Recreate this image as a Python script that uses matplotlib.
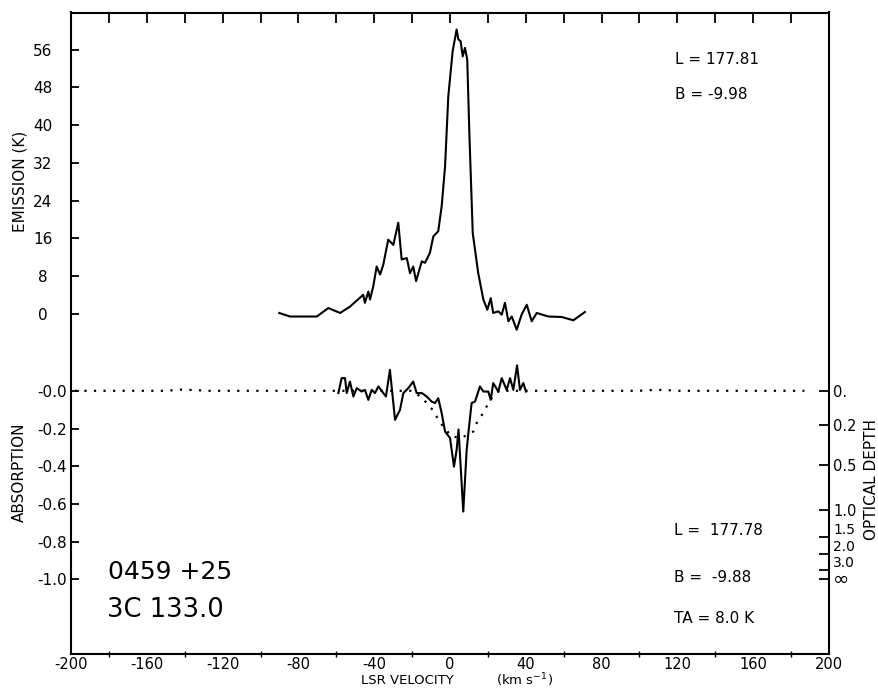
import numpy as np
import matplotlib
matplotlib.use('Agg')
import matplotlib.pyplot as plt

plt.rcParams['font.family'] = 'DejaVu Sans'
plt.rcParams['axes.unicode_minus'] = False

# emission spectrum (K) vs LSR velocity (km/s)
em_v = [-90.1, -84.4, -70.3, -64.2, -58.0, -52.8, -45.8, -44.9, -43.1, -42.2, -40.5,
        -38.7, -36.9, -35.2, -32.6, -29.9, -27.3, -25.5, -22.8, -21.1, -19.4, -17.9,
        -14.9, -13.2, -10.6, -8.8, -6.2, -4.4, -2.6, -0.9, 1.4, 3.5, 4.4, 5.6, 6.7,
        7.9, 9.1, 10.2, 12.0, 14.9, 17.6, 19.7, 21.5, 22.8, 25.5, 27.3, 29.0, 30.8,
        32.6, 35.2, 37.8, 40.5, 43.1, 45.8, 51.9, 58.9, 65.1, 71.2]
em_t = [0.15, -0.6, -0.6, 1.2, 0.15, 1.5, 4.0, 2.3, 4.7, 3.0, 5.8,
        10.0, 8.3, 10.4, 15.7, 14.6, 19.3, 11.5, 11.8, 8.6, 10.0, 6.9,
        11.1, 10.8, 12.9, 16.4, 17.5, 22.8, 31.3, 46.1, 55.7, 60.3, 58.2, 57.8, 54.6,
        56.4, 53.9, 38.4, 17.1, 8.6, 3.0, 0.85, 3.3, 0.15, 0.5, -0.2, 2.3, -1.6,
        -0.6, -3.4, -0.2, 1.9, -1.6, 0.15, -0.6, -0.7, -1.4, 0.35]

# absorption spectrum
ab_v = [-58.9, -57.2, -55.4, -54.5, -52.8, -51.0, -49.2, -46.6, -44.9, -43.1, -41.3,
        -39.6, -37.8, -35.2, -33.8, -31.7, -29.0, -26.4, -24.6, -22.0, -19.4, -17.6,
        -14.9, -12.3, -9.7, -7.9, -6.2, -4.4, -2.6, 0.0, 2.1, 3.5, 4.5, 7.0, 8.8,
        9.7, 11.4, 13.2, 15.8, 17.6, 20.2, 21.5, 22.8, 25.5, 27.3, 29.9, 31.7,
        33.4, 35.4, 36.9, 38.7, 40.1]
ab_a = [-0.012, 0.067, 0.067, -0.012, 0.049, -0.030, 0.014, -0.004, 0.005, -0.048, 0.005,
        -0.012, 0.023, -0.012, -0.030, 0.111, -0.154, -0.101, -0.012, 0.014, 0.049, -0.012,
        -0.012, -0.030, -0.057, -0.065, -0.039, -0.118, -0.216, -0.250, -0.402, -0.313, -0.205, -0.640, -0.313,
        -0.224, -0.065, -0.057, 0.023, -0.004, -0.004, -0.048, 0.041, -0.004, 0.067, 0.005, 0.067,
        0.005, 0.135, 0.005, 0.041, -0.004]

# expected absorption (dotted)
mod_v = [-198, -150, -142, -135, -128, -20, -15, -10.6, -7.9, -6.2, -3.5, 0.9, 6,
         12.3, 14.1, 15.8, 18.5, 20.2, 23, 26, 100, 108, 114, 120, 187]
mod_a = [0, 0, 0.006, 0.004, 0, 0, -0.035, -0.083, -0.118, -0.154, -0.19, -0.242, -0.25,
         -0.216, -0.171, -0.145, -0.10, -0.065, -0.025, 0, 0, 0.005, 0.004, 0, 0]

em_ticks = [0, 8, 16, 24, 32, 40, 48, 56]
ab_ticks = [0, -0.2, -0.4, -0.6, -0.8, -1.0]
ab_labels = ['-0.0', '-0.2', '-0.4', '-0.6', '-0.8', '-1.0']
tau_vals = [0, 0.2, 0.5, 1.0, 1.5, 2.0, 3.0]
tau_labels = ['0.', '0.2', '0.5', '1.0', '1.5', '2.0', '3.0', '\u221e']
v_ticks = [-200, -160, -120, -80, -40, 0, 40, 80, 120, 160, 200]

fig = plt.figure(figsize=(8.79, 6.88), dpi=100)
rect = [71/879, 34/688, 758/879, 641.5/688]

# emission axes (holds the frame)
ax = fig.add_axes(rect)
ax.set_xlim(-200, 200)
ax.set_ylim(-72.2, 63.9)
ax.plot(em_v, em_t, 'k-', lw=1.5)
for s in ax.spines.values():
    s.set_linewidth(1.5)
ax.set_yticks(em_ticks)
ax.set_yticklabels([str(t) for t in em_ticks])
ax.tick_params(axis='y', direction='in', length=6, width=1.3, pad=20.5, labelsize=11)
for lab in ax.get_yticklabels():
    lab.set_horizontalalignment('center')
ax.set_xticks(v_ticks)
ax.set_xticklabels([str(t) for t in v_ticks])
ax.set_xticks(np.arange(-180, 181, 40), minor=True)
ax.tick_params(axis='x', which='major', length=0, pad=2.5, labelsize=10.5)
ax.tick_params(axis='x', which='minor', direction='inout', length=4, width=1)

# absorption axes, same box
ax2 = fig.add_axes(rect, frameon=False)
ax2.set_xlim(-200, 200)
ax2.set_ylim(-1.395, 2.005)
ax2.plot(mod_v, mod_a, color='k', lw=1.6, linestyle=(0, (1, 3.3)))
ax2.plot(ab_v, ab_a, 'k-', lw=1.5)
ax2.xaxis.tick_top()
ax2.set_xticks(np.arange(-180, 181, 20))
ax2.set_xticklabels([])
ax2.tick_params(axis='x', direction='in', length=7, width=1.3)
ax2.set_yticks(ab_ticks)
ax2.set_yticklabels(ab_labels)
ax2.tick_params(axis='y', direction='in', length=6, width=1.3, pad=3, labelsize=11)

# optical depth scale on the right
ax3 = fig.add_axes(rect, frameon=False)
ax3.set_xlim(-200, 200)
ax3.set_ylim(-1.395, 2.005)
ax3.set_xticks([])
tau_pos = list(-(1 - np.exp(-np.array(tau_vals)))) + [-1.0]
ax3.yaxis.tick_right()
ax3.set_yticks(tau_pos)
ax3.set_yticklabels(tau_labels)
ax3.tick_params(axis='y', direction='in', length=7, width=1.3, pad=3, labelsize=10.5)
rlabs = ax3.get_yticklabels()
for lab in rlabs[4:7]:
    lab.set_verticalalignment('bottom')
    lab.set_fontsize(10)
rlabs[7].set_verticalalignment('center')
rlabs[7].set_fontsize(14)

# axis titles
fig.text(20/879, 1 - 181/688, 'EMISSION (K)', rotation=90, ha='center', va='center', fontsize=11)
fig.text(19/879, 1 - 472/688, 'ABSORPTION', rotation=90, ha='center', va='center', fontsize=11)
fig.text(872/879, 1 - 480/688, 'OPTICAL DEPTH', rotation=90, ha='center', va='center', fontsize=11)
fig.text(407/879, 1 - 681/688, 'LSR VELOCITY', ha='center', va='center', fontsize=9.5)
fig.text(525/879, 1 - 680/688, r'(km s$^{-1}$)', ha='center', va='center', fontsize=9.5)

# labels inside the frame
ax.text(0.797, 0.926, 'L = 177.81', transform=ax.transAxes, fontsize=11, va='center')
ax.text(0.797, 0.872, 'B = -9.98', transform=ax.transAxes, fontsize=11, va='center')
ax.text(0.795, 0.192, 'L =  177.78', transform=ax.transAxes, fontsize=11, va='center')
ax.text(0.795, 0.120, 'B =  -9.88', transform=ax.transAxes, fontsize=11, va='center')
ax.text(0.795, 0.055, 'TA = 8.0 K', transform=ax.transAxes, fontsize=11, va='center')
ax.text(0.049, 0.128, '0459 +25', transform=ax.transAxes, fontsize=18, va='center')
ax.text(0.047, 0.069, '3C 133.0', transform=ax.transAxes, fontsize=18.5, va='center')

fig.savefig('out.png', dpi=100)
